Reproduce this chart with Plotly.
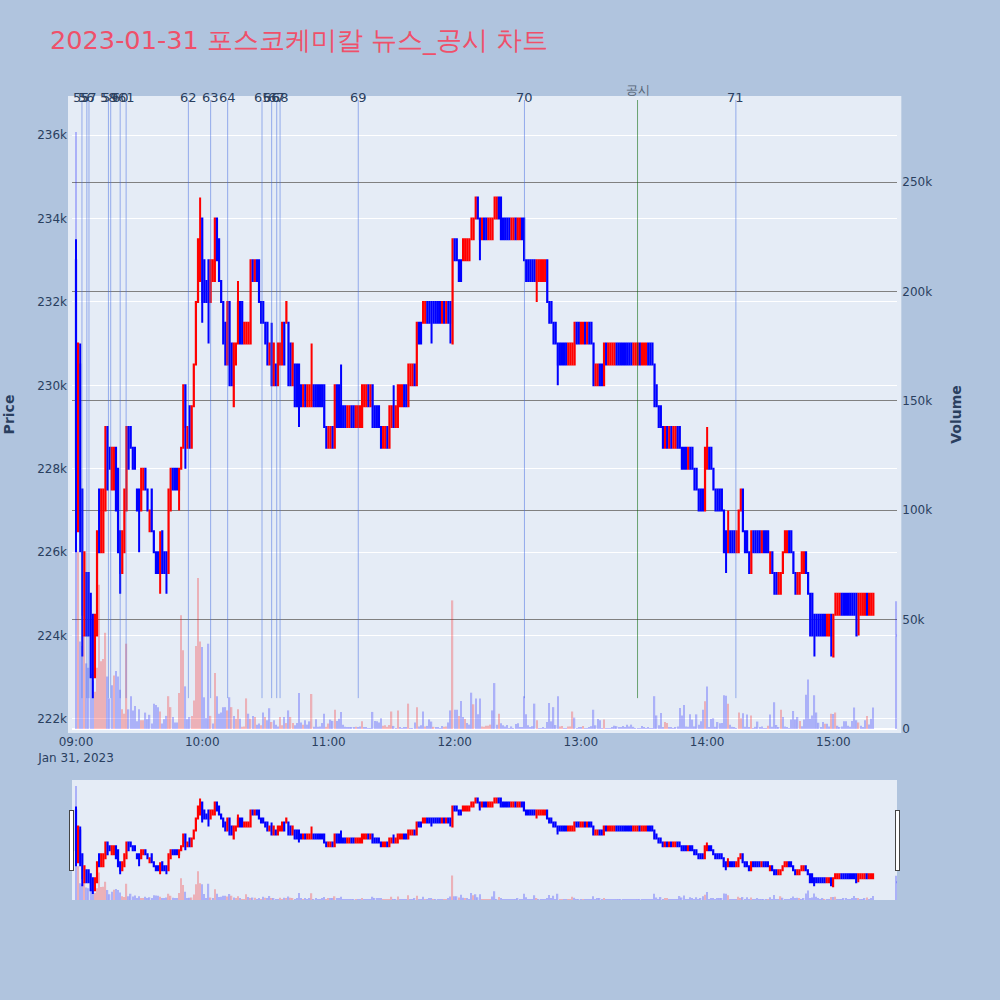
import pandas as pd
import plotly.graph_objects as go
from plotly.subplots import make_subplots

TITLE = "2023-01-31 포스코케미칼 뉴스_공시 차트"

# one record per minute from 09:00 to 15:19, then the 15:30 closing record
minutes = list(pd.date_range("2023-01-31 09:00", periods=380, freq="min")) + [pd.Timestamp("2023-01-31 15:30")]

# prices in units of 100 won
open_h = [
2330,2265,2305,2275,2240,2255,2255,2250,2245,2230,
2240,2275,2260,2260,2270,2290,2285,2275,2275,2285,
2280,2265,2255,2260,2270,2290,2290,2285,2285,2275,
2275,2270,2275,2280,2275,2265,2275,2265,2260,2260,
2255,2265,2260,2260,2255,2270,2280,2280,2280,2275,
2280,2285,2300,2285,2295,2285,2295,2305,2320,2325,
2340,2330,2325,2330,2320,2325,2325,2340,2335,2325,
2320,2315,2305,2320,2310,2295,2305,2310,2320,2320,
2310,2310,2310,2310,2330,2325,2330,2330,2320,2320,
2315,2315,2305,2310,2300,2305,2300,2305,2305,2315,
2315,2315,2310,2300,2305,2305,2305,2300,2295,2300,
2295,2295,2295,2300,2300,2300,2300,2300,2300,2290,
2285,2285,2290,2285,2300,2300,2295,2295,2295,2290,
2290,2295,2295,2290,2290,2290,2290,2295,2295,2300,
2295,2300,2295,2295,2295,2290,2285,2285,2290,2285,
2290,2295,2290,2290,2295,2295,2300,2300,2295,2300,
2300,2305,2300,2315,2315,2315,2315,2320,2320,2320,
2320,2320,2320,2320,2315,2320,2315,2320,2320,2310,
2335,2335,2330,2330,2330,2330,2330,2330,2335,2335,
2340,2345,2340,2335,2340,2340,2335,2335,2335,2340,
2340,2345,2345,2340,2340,2340,2340,2335,2335,2340,
2335,2335,2340,2340,2330,2330,2330,2330,2330,2325,
2325,2325,2325,2325,2330,2320,2320,2315,2315,2310,
2310,2310,2310,2310,2305,2305,2305,2305,2315,2315,
2310,2310,2315,2310,2315,2315,2310,2300,2300,2305,
2305,2300,2310,2305,2305,2305,2305,2310,2310,2310,
2310,2310,2310,2310,2310,2305,2305,2305,2310,2305,
2305,2305,2310,2310,2310,2305,2300,2295,2295,2290,
2285,2290,2285,2290,2285,2285,2290,2290,2285,2285,
2285,2280,2285,2285,2280,2280,2275,2275,2275,2270,
2280,2285,2285,2280,2275,2275,2275,2275,2270,2265,
2260,2265,2265,2265,2260,2260,2270,2275,2265,2265,
2260,2255,2265,2265,2265,2265,2260,2265,2265,2265,
2255,2260,2255,2255,2250,2250,2255,2260,2260,2265,
2265,2260,2255,2250,2250,2255,2255,2260,2255,2250,
2250,2245,2245,2245,2245,2245,2245,2240,2240,2245,
2235,2245,2245,2245,2250,2250,2250,2250,2250,2250,
2250,2250,2245,2245,2245,2245,2250,2245,2245,2245,
2240]
high_h = [
2335,2310,2310,2275,2260,2255,2255,2250,2245,2245,
2265,2275,2275,2275,2290,2290,2285,2285,2285,2285,
2280,2265,2265,2275,2290,2290,2290,2285,2285,2275,
2275,2280,2280,2280,2275,2270,2275,2265,2260,2260,
2265,2265,2260,2260,2275,2280,2280,2280,2280,2280,
2285,2300,2300,2290,2295,2295,2305,2320,2335,2345,
2340,2330,2325,2330,2330,2330,2340,2340,2335,2325,
2320,2315,2320,2320,2310,2310,2310,2325,2320,2320,
2315,2315,2315,2330,2330,2330,2330,2330,2320,2320,
2315,2315,2310,2315,2310,2305,2310,2310,2315,2315,
2320,2315,2310,2310,2305,2305,2305,2300,2300,2300,
2300,2300,2310,2300,2300,2300,2300,2300,2300,2290,
2290,2290,2290,2300,2300,2300,2305,2295,2295,2295,
2295,2295,2295,2295,2295,2295,2300,2300,2300,2300,
2300,2300,2295,2295,2295,2290,2290,2290,2290,2295,
2295,2300,2295,2300,2300,2300,2300,2300,2305,2305,
2305,2305,2315,2315,2315,2320,2320,2320,2320,2320,
2320,2320,2320,2320,2320,2320,2320,2320,2320,2335,
2335,2335,2330,2330,2335,2335,2335,2335,2340,2340,
2345,2345,2340,2340,2340,2340,2340,2340,2340,2345,
2345,2345,2345,2340,2340,2340,2340,2340,2340,2340,
2340,2340,2340,2340,2330,2330,2330,2330,2330,2330,
2330,2330,2330,2330,2330,2320,2320,2315,2315,2310,
2310,2310,2310,2310,2310,2310,2310,2315,2315,2315,
2315,2315,2315,2315,2315,2315,2310,2305,2305,2305,
2305,2310,2310,2310,2310,2310,2310,2310,2310,2310,
2310,2310,2310,2310,2310,2310,2310,2310,2310,2310,
2310,2310,2310,2310,2310,2305,2300,2295,2295,2290,
2290,2290,2290,2290,2290,2290,2290,2290,2285,2285,
2285,2285,2285,2285,2280,2280,2275,2275,2275,2285,
2290,2285,2285,2280,2275,2275,2275,2275,2270,2265,
2270,2265,2265,2265,2265,2270,2275,2275,2265,2265,
2260,2265,2265,2265,2265,2265,2265,2265,2265,2265,
2260,2260,2255,2255,2255,2255,2260,2265,2265,2265,
2265,2260,2255,2255,2255,2260,2260,2260,2255,2250,
2250,2245,2245,2245,2245,2245,2245,2245,2245,2245,
2245,2250,2250,2250,2250,2250,2250,2250,2250,2250,
2250,2250,2250,2250,2250,2250,2250,2250,2250,2250,
2240]
low_h = [
2260,2265,2260,2235,2240,2240,2240,2230,2225,2230,
2240,2260,2260,2260,2270,2275,2280,2275,2275,2270,
2260,2250,2255,2260,2270,2280,2285,2280,2280,2270,
2260,2270,2275,2275,2270,2265,2265,2260,2255,2255,
2250,2255,2255,2250,2255,2270,2275,2275,2275,2270,
2280,2285,2280,2285,2285,2285,2295,2305,2320,2325,
2315,2320,2320,2310,2320,2325,2325,2330,2325,2320,
2310,2305,2305,2300,2300,2295,2305,2310,2310,2310,
2310,2310,2310,2310,2325,2325,2325,2320,2315,2315,
2310,2305,2305,2300,2300,2300,2300,2305,2305,2305,
2315,2300,2300,2300,2295,2295,2290,2295,2295,2295,
2295,2295,2295,2295,2295,2295,2295,2295,2290,2285,
2285,2285,2285,2285,2290,2290,2290,2290,2290,2290,
2290,2290,2290,2290,2290,2290,2290,2295,2295,2295,
2295,2290,2290,2290,2290,2285,2285,2285,2285,2285,
2290,2290,2290,2290,2295,2295,2295,2295,2295,2300,
2300,2300,2300,2310,2310,2315,2315,2315,2315,2310,
2315,2315,2315,2315,2315,2315,2315,2315,2310,2310,
2330,2330,2325,2325,2330,2330,2330,2330,2335,2335,
2340,2340,2330,2335,2335,2335,2335,2335,2335,2340,
2340,2340,2335,2335,2335,2335,2335,2335,2335,2335,
2335,2335,2335,2330,2325,2325,2325,2325,2325,2320,
2325,2325,2325,2325,2320,2315,2315,2310,2310,2300,
2305,2305,2305,2305,2305,2305,2305,2305,2310,2310,
2310,2310,2310,2310,2310,2310,2300,2300,2300,2300,
2300,2300,2305,2305,2305,2305,2305,2305,2305,2305,
2305,2305,2305,2305,2305,2305,2305,2305,2305,2305,
2305,2305,2305,2305,2305,2295,2295,2290,2290,2285,
2285,2285,2285,2285,2285,2285,2285,2285,2280,2280,
2280,2280,2280,2280,2275,2275,2270,2270,2270,2270,
2280,2280,2280,2275,2270,2270,2270,2270,2260,2255,
2260,2260,2260,2260,2260,2260,2270,2265,2260,2260,
2255,2255,2260,2260,2260,2260,2260,2260,2260,2260,
2255,2255,2250,2250,2250,2250,2255,2260,2260,2260,
2260,2255,2250,2250,2250,2255,2255,2255,2250,2240,
2240,2235,2240,2240,2240,2240,2240,2240,2240,2235,
2235,2245,2245,2245,2245,2245,2245,2245,2245,2245,
2245,2240,2240,2245,2245,2245,2245,2245,2245,2245,
2240]
close_h = [
2280,2310,2265,2245,2260,2240,2240,2230,2230,2245,
2265,2260,2275,2275,2290,2275,2280,2285,2285,2270,
2260,2255,2265,2275,2290,2280,2285,2280,2280,2270,
2270,2280,2280,2275,2270,2270,2265,2260,2255,2255,
2260,2255,2255,2255,2275,2280,2275,2275,2275,2280,
2285,2300,2290,2290,2285,2295,2305,2320,2335,2335,
2320,2320,2320,2320,2330,2330,2340,2330,2325,2320,
2310,2305,2320,2300,2300,2310,2310,2320,2310,2310,
2315,2315,2315,2330,2325,2330,2325,2320,2315,2315,
2310,2305,2310,2300,2310,2300,2310,2310,2315,2305,
2320,2300,2300,2310,2295,2295,2295,2295,2300,2295,
2300,2300,2300,2295,2295,2295,2295,2295,2290,2285,
2290,2290,2285,2300,2290,2290,2290,2290,2290,2295,
2295,2290,2290,2295,2295,2295,2300,2300,2300,2295,
2300,2290,2290,2290,2290,2285,2290,2290,2285,2295,
2295,2290,2295,2300,2300,2300,2295,2295,2305,2305,
2305,2300,2315,2310,2310,2320,2320,2315,2315,2315,
2315,2315,2315,2315,2320,2315,2320,2315,2315,2335,
2330,2330,2325,2325,2335,2335,2335,2335,2340,2340,
2345,2340,2335,2340,2335,2335,2340,2340,2340,2345,
2345,2340,2335,2335,2335,2335,2335,2340,2340,2335,
2340,2340,2335,2330,2325,2325,2325,2325,2325,2330,
2330,2330,2330,2330,2320,2315,2315,2310,2310,2305,
2305,2305,2305,2305,2310,2310,2310,2315,2310,2310,
2315,2315,2310,2315,2310,2310,2300,2305,2305,2300,
2300,2310,2305,2310,2310,2310,2310,2305,2305,2305,
2305,2305,2305,2305,2305,2310,2310,2310,2305,2310,
2310,2310,2305,2305,2305,2295,2295,2290,2290,2285,
2290,2285,2290,2285,2290,2290,2285,2285,2280,2280,
2280,2285,2280,2280,2275,2275,2270,2270,2270,2285,
2285,2280,2280,2275,2270,2270,2270,2270,2260,2260,
2265,2260,2260,2260,2265,2270,2275,2265,2260,2260,
2255,2265,2260,2260,2260,2260,2265,2260,2260,2260,
2260,2255,2250,2250,2255,2255,2260,2265,2265,2260,
2260,2255,2250,2255,2255,2260,2260,2255,2250,2240,
2240,2240,2240,2240,2240,2240,2240,2245,2245,2240,
2245,2250,2250,2250,2245,2245,2245,2245,2245,2245,
2245,2240,2250,2250,2250,2250,2245,2250,2250,2250,
2240]

# volume in thousands of shares
volume_k = [
273,81,40,38,43,30,28,25,22,17,
28,66,31,32,44,24,14,20,24.5,26.5,
24,18,9,7,39,9,15,8.5,10.5,3.5,
9,4,4,7.5,4.5,6.5,2.5,11.5,11,10,
8,2.5,4.5,6,15,10,5.5,3,3,16.5,
52,36,19.5,4.5,5.5,6,13,38,69,40,
37.5,14.5,5,39,6,2.5,25.6,15,7,7.5,
10,10,8.5,14.5,10,6,4.7,9,4.7,1,
1.2,14,7,4.7,6,5.5,2,2.5,1.7,7.5,
5.5,4,9.5,3.2,4,2,1.2,5.5,1.7,5.5,
2.7,8.5,5.5,2.7,1.7,2.7,16.5,3,2,4,
2,3.5,16,1,4.5,1,1.2,2.7,7,1,
2.5,4.3,3.7,8.8,3.7,4.7,7.8,2,1,0.8,
0.6,0.8,0.5,1,0.8,1.2,3.5,0.8,0.5,0.2,
0.2,7.8,3.7,3.5,3,4.9,1.5,1.7,1,1.8,
8,1.4,0.3,8.5,0.6,0.2,0.5,0.6,11.6,0.3,
0.4,3,10,1.2,1.7,8,1.2,1.4,4.4,3.4,
1,0.9,0.8,0.3,1.4,1,1.2,3,8.5,58.8,
8.8,8.8,6,12.8,5.5,4.6,2.7,2,16.6,11.3,
13.9,6.7,13.9,1.2,1,1.5,1.5,2,8.5,21,
2,7,2.6,1.7,1.2,1.8,0.3,1.2,0.1,2.3,
2.6,0.5,0.7,15,6.7,1.7,0.9,1.3,11.6,4,
0.3,0.4,0.7,0.4,3.2,11.9,3.5,10,1.8,15,
1.2,1.4,0.4,0.2,1.2,1.2,8,5.2,0.4,0.5,
0.8,1.4,0.4,0.3,0.8,1.3,8.8,1.7,4.6,4,
0.3,4.4,0.2,0.1,0.4,0.8,1.5,1.3,0.6,0.7,
1.4,0.9,1.9,1.1,2,1,0.3,0.2,0.3,1.4,
0.7,0.2,0.8,0.3,0.2,15,6.2,1.7,7.3,0.8,
3.2,2.7,0.6,0.6,0.4,0.8,1.2,9.6,6.2,11,
1.2,1,6.7,4.3,1.2,6.7,2,3.5,8.8,12.7,
19.4,0.8,4.6,4.9,1,3.2,2.6,2.7,15.4,15.2,
11.6,2,1,0.7,0.3,7.5,4.9,7.2,1,6.6,
0.7,6.2,0.3,1,3.4,0.7,1.2,0.2,0.3,1.5,
6.6,1,12.2,1.8,0.9,8.8,5.5,1.2,0.7,0.2,
4.3,8.2,4.3,5.5,3.7,1.3,4.3,15.7,22.6,4.7,
6.2,15.4,7.6,2.9,0.9,3.2,2.4,2.4,1.2,7,
6.9,7.6,1.5,0.9,1.2,3.5,3.5,1.5,1,3.7,
9.8,4,3,1.5,0.8,4,6,2.1,4.7,9.8,
58.4]
volume_side = (
"BRBBRBBBBR" "RRRRRBBBRB" "BBRRRBBBBB" "BRRBBBBBBB" "RBBBRRBBBR"
"RRBBBRRRRR" "BBBBRBRBBB" "BBRBRBRRBR" "RRBRBRBBRB" "RBBRBBBRRB"
"RBRRBBBBRB" "BBRBBBBBBR" "RBBRBBBBBB" "BBBRBBRBBB" "BBBBBBRRRR"
"RBBRBBBBRB" "BBRBBBRBBB" "RBBBBRRBBR" "BBRBBRBBBR" "BBBRRRRRBB"
"BRBBBBBBBB" "BBBBBBBBBR" "BBBBBBBBBB" "RRBBRRRBBB" "BRBBBBBBBB"
"BRBBBBBBBB" "BBBBBBBBBB" "BBBBBBBBBB" "RRBBBBBBBB" "BBBBBBBBBR"
"BBBBBBBBBB" "RBBBBRRBBB" "BRBBBBBBBR" "BBBBBRBBBB" "BBBBRBBBBB"
"BBBBBBRBBR" "BRBBBBBBBB" "BBRBBBRBBB" "B")

news_labels = ["55","56","57","58","59","60","61","62","63","64","65","66","67","68","69","70","71"]
news_times = ["09:02:50","09:05:10","09:06:10","09:15:25","09:16:30","09:21:00","09:23:50",
              "09:53:25","10:04:00","10:12:05","10:28:25","10:33:00","10:35:25","10:37:00",
              "11:14:10","12:33:10","14:13:40"]
filing_label = "공시"
filing_time = "13:26:55"
event_floor = 222500

DAY = "2023-01-31 "
x_range = [DAY + "08:58:06", DAY + "15:30:24"]
price_range = [221760, 236840]
volume_range = [0, 287600]

to_won = lambda xs: [v * 100 for v in xs]

fig = make_subplots(specs=[[{"secondary_y": True}]])
fig.add_trace(go.Candlestick(
    x=minutes, open=to_won(open_h), high=to_won(high_h), low=to_won(low_h), close=to_won(close_h),
    increasing_line_color="red", decreasing_line_color="blue",
    increasing_line_width=2, decreasing_line_width=2, showlegend=False, name="Price"),
    secondary_y=False)
fig.add_trace(go.Bar(
    x=minutes, y=[v * 1000 for v in volume_k],
    marker_color=["red" if s == "R" else "blue" for s in volume_side],
    marker_opacity=0.25, marker_line_width=0, showlegend=False, name="Volume"),
    secondary_y=True)

for t, lab in zip(news_times, news_labels):
    fig.add_shape(type="line", xref="x", yref="y", x0=DAY + t, x1=DAY + t, y0=event_floor, y1=price_range[1],
                  line=dict(color="rgba(65,105,225,0.5)", width=1))
    fig.add_annotation(x=DAY + t, xref="x", y=1, yref="paper", yanchor="middle", yshift=3, text=lab,
                       showarrow=False, font=dict(size=13, color="#2a3f5f"))
fig.add_shape(type="line", xref="x", yref="y", x0=DAY + filing_time, x1=DAY + filing_time,
              y0=event_floor, y1=price_range[1], line=dict(color="rgba(0,100,0,0.55)", width=1))
fig.add_annotation(x=DAY + filing_time, xref="x", y=1, yref="paper", yanchor="middle", yshift=10,
                   text=filing_label, showarrow=False, font=dict(size=12, color="#506070"))

fig.update_layout(
    width=1000, height=1000,
    margin=dict(l=72, r=50, t=100, b=100, pad=4),
    paper_bgcolor="#B0C4DE",
    plot_bgcolor="#E5ECF6",
    font=dict(family="DejaVu Sans", color="#2a3f5f"),
    title=dict(text=TITLE, x=0.05, xref="container", y=0.96, yanchor="middle",
               font=dict(size=25.6, color="#EF506A")),
    xaxis=dict(range=x_range, rangeslider=dict(visible=True, range=x_range), showgrid=False),
    hovermode="x",
    bargap=0.35,
    boxgap=0.85,
)
fig.update_yaxes(title_text="<b>Price</b>", title_standoff=23, automargin=False, range=price_range,
                 gridcolor="white", zerolinecolor="white", secondary_y=False)
fig.update_yaxes(title_text="<b>Volume</b>", title_standoff=23, automargin=False, range=volume_range,
                 gridcolor="#808080", zerolinecolor="white", secondary_y=True)

fig.write_html("out.html", config={"displayModeBar": False},
               post_script="document.body.style.margin='0';document.body.style.overflow='hidden';")
